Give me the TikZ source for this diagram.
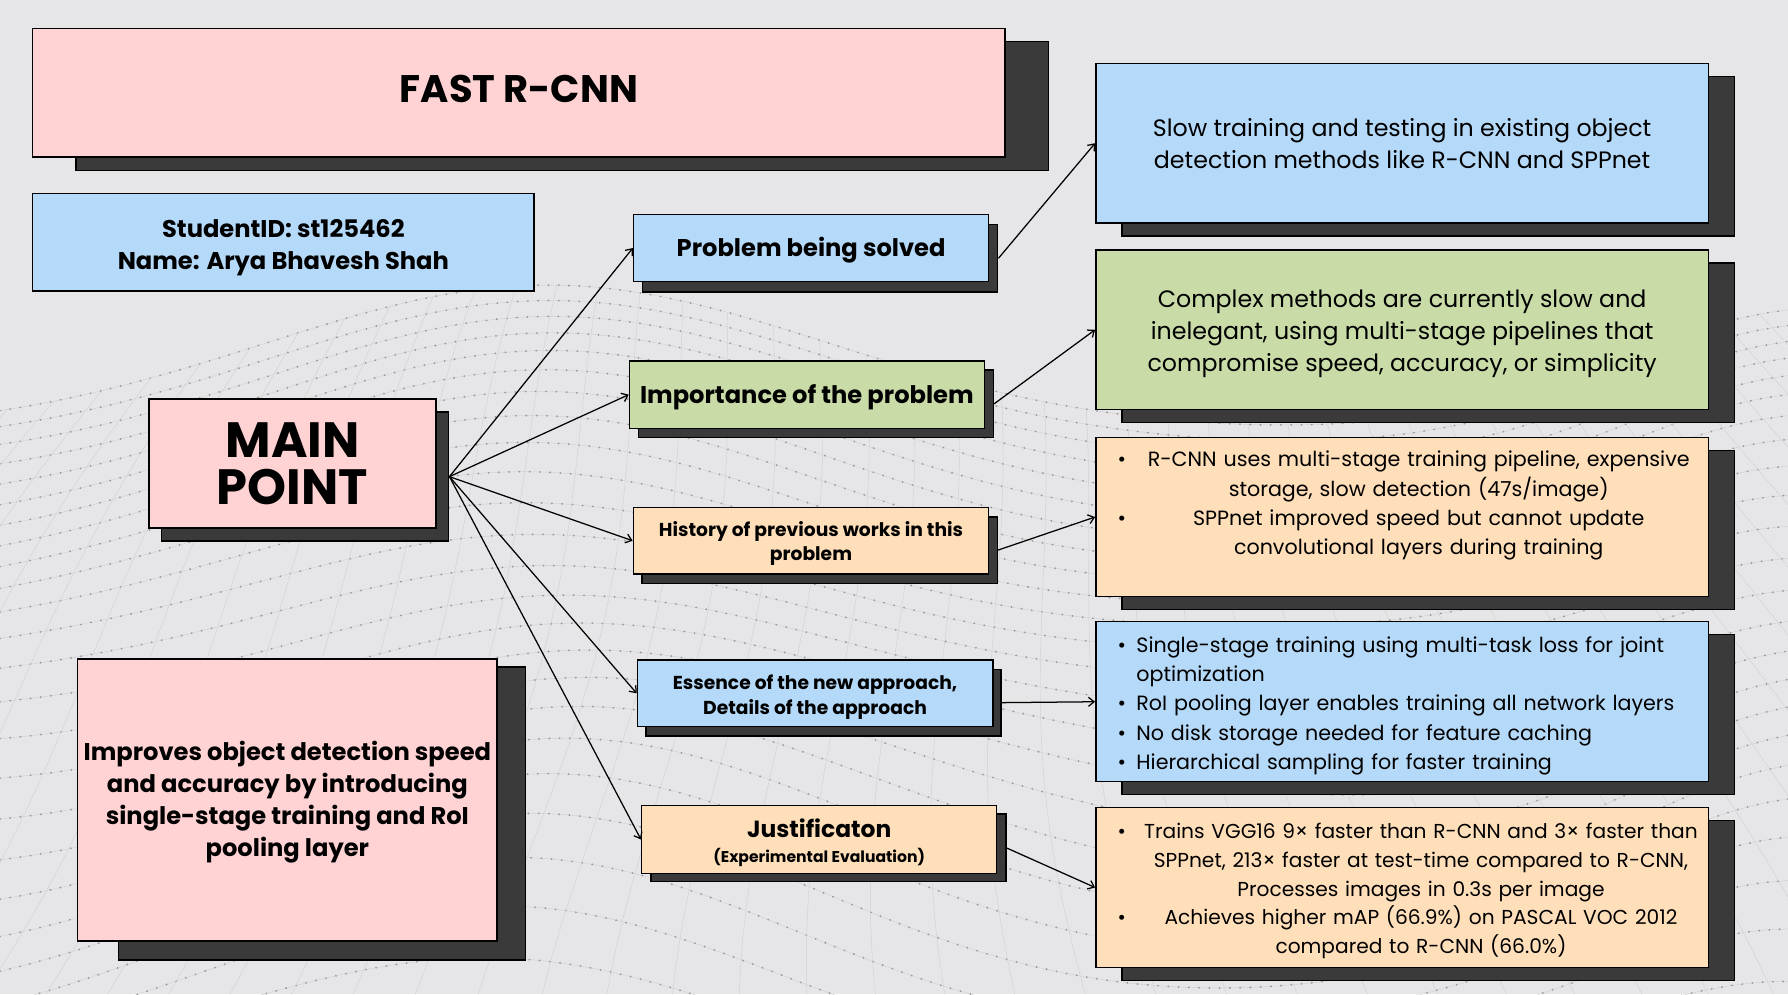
\documentclass[tikz,border=0pt]{standalone}
\usepackage{fontspec}
\setmainfont{Poppins}
\usetikzlibrary{arrows.meta}
\definecolor{bgc}{HTML}{E6E6E8}
\definecolor{pinkc}{HTML}{FFD3D4}
\definecolor{bluec}{HTML}{B5D9F8}
\definecolor{greenc}{HTML}{C9DCA8}
\definecolor{peachc}{HTML}{FFDFBA}
\definecolor{shadowc}{HTML}{3A3A3A}
\definecolor{meshc}{HTML}{9A9A9E}
\newcommand\lowr[1]{\rule{0pt}{\dimexpr\fontcharht\font`\l+#1*2\relax}}
\pgfdeclarelayer{bglayer}
\pgfdeclarelayer{shlayer}
\pgfsetlayers{bglayer,shlayer,main}
\begin{document}
\begin{tikzpicture}[x=1pt,y=-1pt,
  box/.style={draw=black, line width=1.3pt, inner sep=0pt, align=center, text=black},
  shbox/.style={draw=black, fill=shadowc, line width=1.3pt, inner sep=0pt},
  link/.style={line width=1.1pt, -{Straight Barb[length=5pt,width=8pt,line width=1.1pt]}},
  meshdot/.style={meshc, line width=1.8pt, line cap=round, dash pattern=on 0pt off 9pt},
  meshline/.style={meshc!45, line width=0.4pt},
  boldmid/.style={font=\fontsize{21.2}{28}\selectfont\bfseries},
  smalltext/.style={font=\fontsize{16.4}{21.4}\selectfont\bfseries},
  bigtext/.style={font=\fontsize{20.8}{28}\selectfont},
  listtext/.style={align=left, text width=499pt},
]
\useasboundingbox (0,0) rectangle (1568,872);
\begin{pgfonlayer}{bglayer}
\fill[bgc] (0,0) rectangle (1568,872);
\begin{scope}
\clip (0,0) rectangle (1568,872);
\foreach \k in {0,...,28} {
  \draw[meshline] plot[domain=0:1568, samples=70, smooth] (\x, {380 - 130*exp(-1*((\x-480)/350)*((\x-480)/350)) - 110*exp(-1*((\x-1600)/250)*((\x-1600)/250)) + \k*(13+0.55*\k) + 0.9*\k*sin(\x*0.32 + 25*\k)});
  \draw[meshdot] plot[domain=0:1568, samples=70, smooth] (\x, {380 - 130*exp(-1*((\x-480)/350)*((\x-480)/350)) - 110*exp(-1*((\x-1600)/250)*((\x-1600)/250)) + \k*(13+0.55*\k) + 0.9*\k*sin(\x*0.32 + 25*\k)});
}
\clip plot[domain=0:1568, samples=70, smooth] (\x, {380 - 130*exp(-1*((\x-480)/350)*((\x-480)/350)) - 110*exp(-1*((\x-1600)/250)*((\x-1600)/250))}) -- (1568,872) -- (0,872) -- cycle;
\foreach \m in {-10,...,50} {
  \draw[meshline] plot[domain=240:872, samples=30, smooth] ({\m*34 + (\m*34-780)/900*(\x-240) + 20*sin(\x*0.45+\m*12)}, \x);
}
\end{scope}
\end{pgfonlayer}

% ---- title and info
\node[box, fill=pinkc, minimum width=853pt, minimum height=113pt, font=\fontsize{33.7}{38}\selectfont\bfseries] (title) at (455,81.3) {\raisebox{3pt}[\height][\depth]{FAST R-CNN}};
\node[box, fill=bluec, minimum width=440pt, minimum height=85.4pt, boldmid] (student) at (248.5,212.3) {\lowr{5pt}StudentID: st125462\\ Name: Arya Bhavesh Shah};

% ---- main point and summary
\node[box, fill=pinkc, minimum width=252pt, minimum height=113pt, font=\fontsize{43.5}{41.5}\selectfont\bfseries] (mp) at (256.5,406.5) {MAIN\\POINT};
\node[box, fill=pinkc, minimum width=368pt, minimum height=247pt, boldmid] (sum) at (252,701.5) {\lowr{3pt}Improves object detection speed\\ and accuracy by introducing\\ single-stage training and RoI\\ pooling layer};

% ---- middle column
\node[box, fill=bluec, minimum width=311.3pt, minimum height=59pt, boldmid] (P) at (711.3,217.5) {\lowr{3pt}Problem being solved};
\node[box, fill=greenc, minimum width=311.2pt, minimum height=59pt, boldmid] (I) at (707.6,346.1) {\lowr{3.5pt}Importance of the problem};
\node[box, fill=peachc, minimum width=311.6pt, minimum height=58.4pt, smalltext] (H) at (711.2,474.2) {\lowr{3pt}History of previous works in this\\ problem};
\node[box, fill=bluec, minimum width=311.6pt, minimum height=58.5pt, smalltext] (E) at (714.8,608) {\lowr{4pt}Essence of the new approach,\\ Details of the approach};
\node[box, fill=peachc, minimum width=311.3pt, minimum height=59.3pt, font=\fontsize{20.5}{24}\selectfont\bfseries] (J) at (718.4,736.2) {\lowr{4pt}Justificaton\\[-2pt] {\fontsize{13.7}{16}\selectfont (Experimental Evaluation)}};

% ---- right column
\node[box, fill=bluec, minimum width=537.2pt, minimum height=140.1pt, bigtext] (R1) at (1229.6,125.6) {Slow training and testing in existing object\\ detection methods like R-CNN and SPPnet};
\node[box, fill=greenc, minimum width=537.2pt, minimum height=139.7pt, bigtext] (R2) at (1229.6,289.2) {\lowr{3.5pt}Complex methods are currently slow and\\ inelegant, using multi-stage pipelines that\\ compromise speed, accuracy, or simplicity};
\node[box, fill=peachc, minimum width=537.2pt, minimum height=139.8pt, listtext, font=\fontsize{18.1}{25.5}\selectfont] (R3) at (1229.6,453.4) {\noindent\raisebox{-2pt}[\height][\depth]{\begin{tabular}{@{}c@{\hspace{19pt}}c@{}}
•&R-CNN uses multi-stage training pipeline, expensive\\
&storage, slow detection (47s/image)\\
•&SPPnet improved speed but cannot update\\
&convolutional layers during training\\
&\\
\end{tabular}}};
\node[box, fill=bluec, minimum width=537.2pt, minimum height=140.3pt, listtext, font=\fontsize{18.1}{25.5}\selectfont] (R4) at (1229.6,615.4) {\noindent\raisebox{-3pt}[\height][\depth]{\begin{tabular}{@{}l@{\hspace{9pt}}l@{}}
•&Single-stage training using multi-task loss for joint\\
&optimization\\
•&RoI pooling layer enables training all network layers\\
•&No disk storage needed for feature caching\\
•&Hierarchical sampling for faster training\\
\end{tabular}}};
\node[box, fill=peachc, minimum width=537.2pt, minimum height=140.6pt, listtext, font=\fontsize{17.7}{25.3}\selectfont] (R5) at (1229.6,778.3) {\noindent\raisebox{-2.5pt}[\height][\depth]{\begin{tabular}{@{}c@{\hspace{16pt}}c@{}}
•&Trains VGG16 9× faster than R-CNN and 3× faster than\\
&SPPnet, 213× faster at test-time compared to R-CNN,\\
&Processes images in 0.3s per image\\
•&Achieves higher mAP (66.9\%) on PASCAL VOC 2012\\
&compared to R-CNN (66.0\%)\\
\end{tabular}}};

% ---- shadows
\begin{pgfonlayer}{shlayer}
\node[shbox, minimum width=853pt, minimum height=113pt] (titleS) at ([shift={(38.2,11.7)}]title.center) {};
\node[shbox, minimum width=252pt, minimum height=113pt] (mpS) at ([shift={(11,11.5)}]mp.center) {};
\node[shbox, minimum width=357pt, minimum height=257pt] (sumS) at ([shift={(30.5,12)}]sum.center) {};
\node[shbox, minimum width=311.3pt, minimum height=59pt] (PS) at ([shift={(8,9)}]P.center) {};
\node[shbox, minimum width=311.2pt, minimum height=59pt] (IS) at ([shift={(8,8)}]I.center) {};
\node[shbox, minimum width=311.6pt, minimum height=58.4pt] (HS) at ([shift={(7.6,8.2)}]H.center) {};
\node[shbox, minimum width=311.6pt, minimum height=58.5pt] (ES) at ([shift={(7.3,8.2)}]E.center) {};
\node[shbox, minimum width=311.3pt, minimum height=59.3pt] (JS) at ([shift={(8,7.4)}]J.center) {};
\node[shbox, minimum width=537.2pt, minimum height=140.1pt] (R1S) at ([shift={(23,11.4)}]R1.center) {};
\node[shbox, minimum width=537.2pt, minimum height=139.7pt] (R2S) at ([shift={(23,11.4)}]R2.center) {};
\node[shbox, minimum width=537.2pt, minimum height=139.8pt] (R3S) at ([shift={(23,11.4)}]R3.center) {};
\node[shbox, minimum width=537.2pt, minimum height=140.3pt] (R4S) at ([shift={(23,11.4)}]R4.center) {};
\node[shbox, minimum width=537.2pt, minimum height=140.6pt] (R5S) at ([shift={(23,11.4)}]R5.center) {};
\end{pgfonlayer}

% ---- connectors
\draw[link] (mpS.east) -- (P.west);
\draw[link] (mpS.east) -- (I.west);
\draw[link] (mpS.east) -- (H.west);
\draw[link] (mpS.east) -- (E.west);
\draw[link] (mpS.east) -- (J.west);
\draw[link] (PS.east) -- (R1.west);
\draw[link] (IS.east) -- (R2.west);
\draw[link] (HS.east) -- (R3.west);
\draw[link] (ES.east) -- (R4.west);
\draw[link] (JS.east) -- (R5.west);
\end{tikzpicture}
\end{document}
